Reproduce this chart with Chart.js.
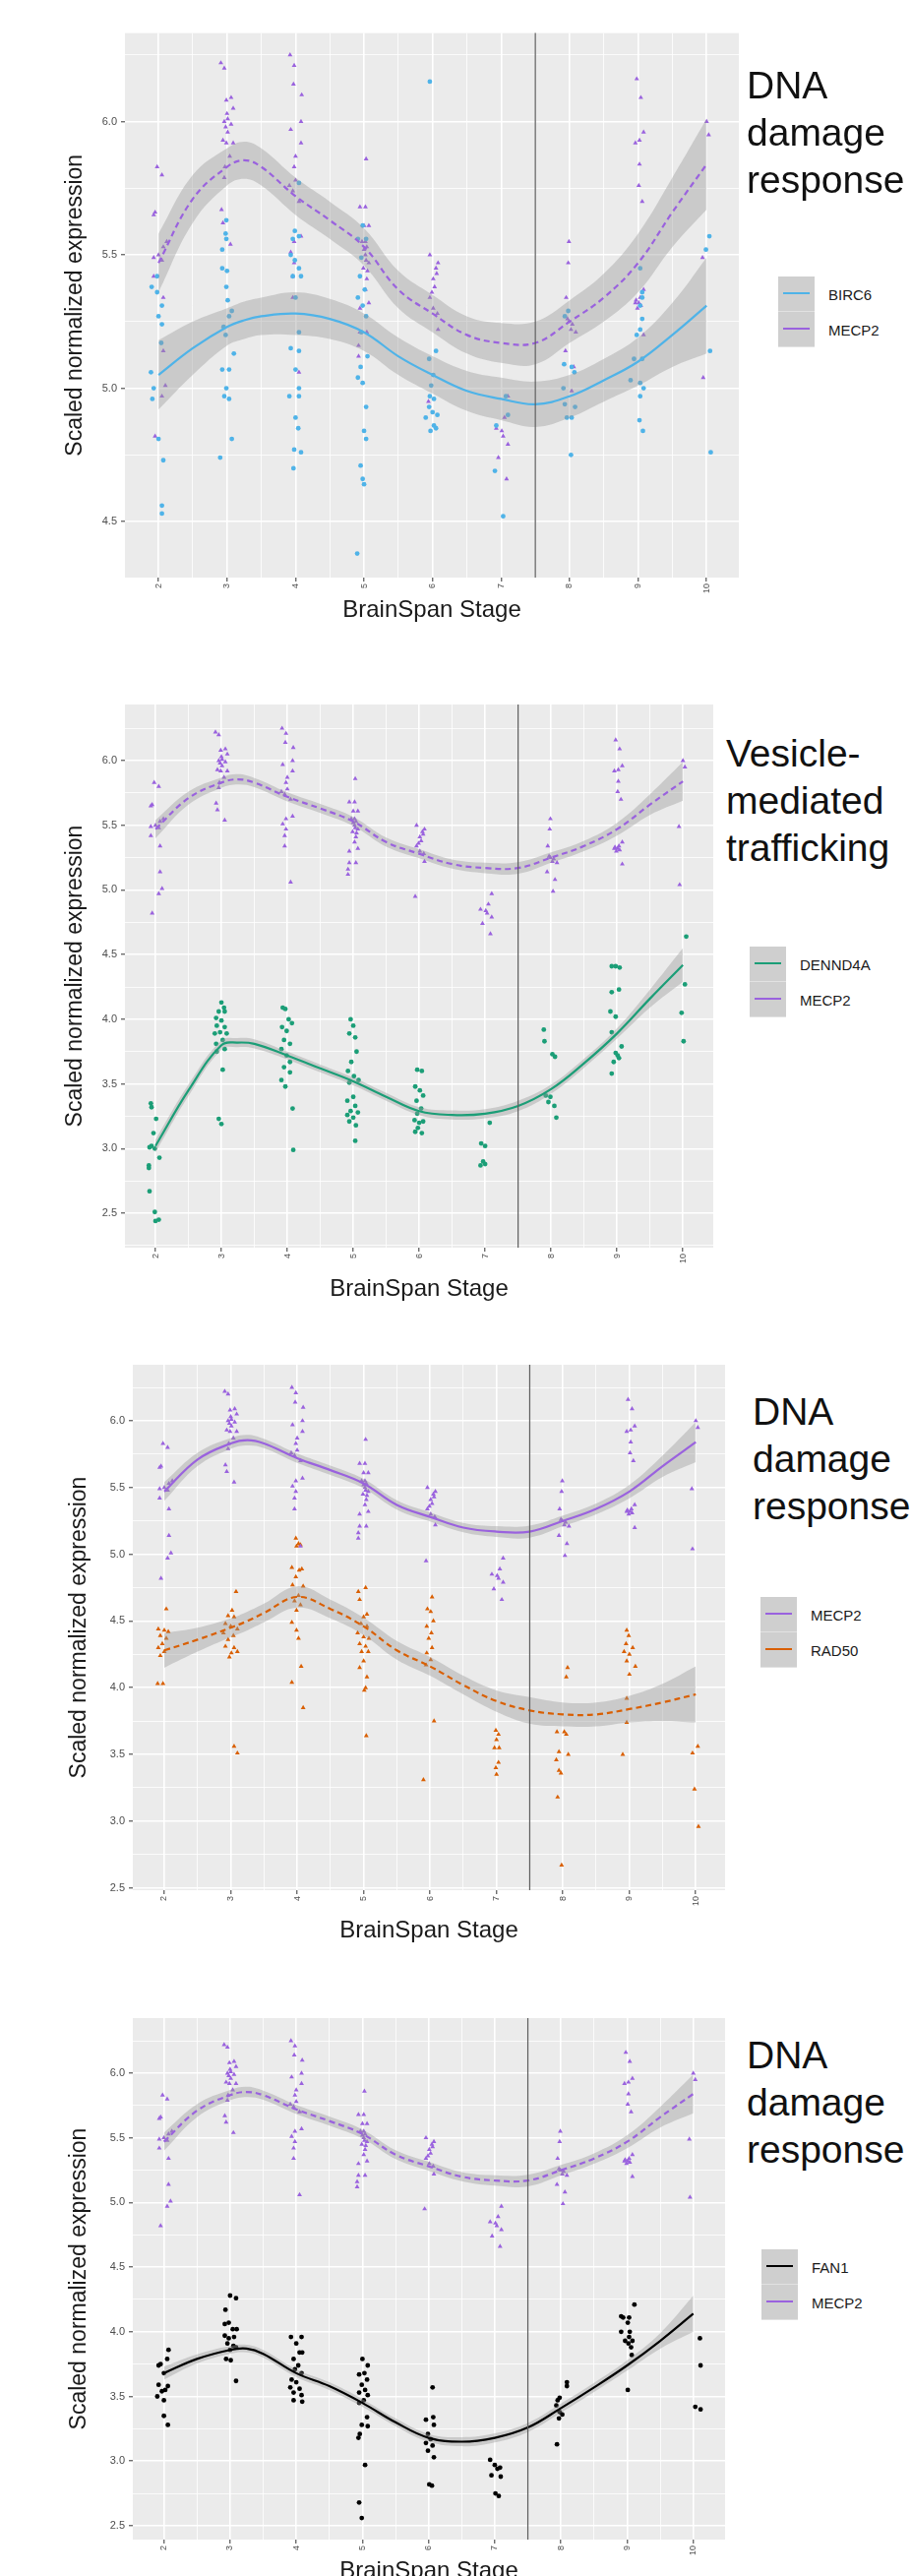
<!DOCTYPE html>
<html>
<head>
<meta charset="utf-8">
<script src="https://cdn.jsdelivr.net/npm/chart.js@4.4.1/dist/chart.umd.min.js"></script>
<style>
html,body{margin:0;padding:0;background:#fff;width:926px;height:2618px;overflow:hidden;position:relative;font-family:"Liberation Sans",Arial,Helvetica,sans-serif;}
.wrap{position:absolute;left:0;}
.title{position:absolute;font-size:39px;line-height:48px;color:#111;white-space:nowrap;}
.legend{position:absolute;}
.row{display:flex;align-items:center;height:36px;}
.key{position:relative;width:37px;height:35px;background:#cfcfcf;border-bottom:1px solid #e2e2e2;}
.key span{position:absolute;left:5px;right:5px;top:16px;height:2px;}
.lab{margin-left:14px;font-size:15px;color:#1a1a1a;}
</style>
</head>
<body>
<script>
// ---------------- data ----------------
const STAGE_TICKS = [2, 3, 4, 5, 6, 7, 8, 9, 10];
const CUTOFF_STAGE = 7.5;
const Y_TICKS_P1 = [4.5, 5.0, 5.5, 6.0];
const Y_TICKS = [2.5, 3.0, 3.5, 4.0, 4.5, 5.0, 5.5, 6.0];

// x positions of fitted-curve samples
const CURVE_X = [2, 2.5, 3, 3.25, 3.5, 4, 4.5, 5, 5.5, 6, 6.5, 7, 7.5, 8, 8.5, 9, 9.5, 10];

const MECP2_FIT = [5.47, 5.71, 5.83, 5.855, 5.83, 5.72, 5.63, 5.53, 5.37, 5.28, 5.20, 5.17, 5.17, 5.25, 5.34, 5.47, 5.66, 5.84];
const MECP2_UPPER_P1 = [5.58, 5.80, 5.90, 5.925, 5.90, 5.79, 5.70, 5.60, 5.44, 5.35, 5.27, 5.245, 5.25, 5.33, 5.43, 5.58, 5.79, 6.01];
const MECP2_LOWER_P1 = [5.36, 5.62, 5.76, 5.785, 5.76, 5.65, 5.56, 5.46, 5.30, 5.21, 5.13, 5.095, 5.09, 5.17, 5.25, 5.36, 5.53, 5.67];
const MECP2_UPPER = [5.54, 5.76, 5.87, 5.895, 5.865, 5.755, 5.665, 5.565, 5.405, 5.315, 5.235, 5.21, 5.215, 5.29, 5.38, 5.52, 5.74, 5.99];
const MECP2_LOWER = [5.40, 5.66, 5.79, 5.815, 5.795, 5.685, 5.595, 5.495, 5.335, 5.245, 5.165, 5.13, 5.125, 5.21, 5.30, 5.42, 5.58, 5.69];

const BIRC6_FIT = [5.05, 5.15, 5.23, 5.255, 5.27, 5.28, 5.26, 5.21, 5.12, 5.05, 4.99, 4.96, 4.94, 4.97, 5.03, 5.10, 5.20, 5.31];
const BIRC6_UPPER = [5.18, 5.25, 5.30, 5.325, 5.34, 5.36, 5.335, 5.28, 5.19, 5.12, 5.065, 5.04, 5.025, 5.05, 5.11, 5.19, 5.32, 5.49];
const BIRC6_LOWER = [4.92, 5.05, 5.16, 5.185, 5.20, 5.20, 5.185, 5.14, 5.05, 4.98, 4.915, 4.88, 4.855, 4.89, 4.95, 5.01, 5.08, 5.13];

const DENND4A_FIT = [3.02, 3.45, 3.80, 3.82, 3.81, 3.72, 3.62, 3.52, 3.40, 3.29, 3.26, 3.27, 3.33, 3.46, 3.66, 3.89, 4.16, 4.42];
const DENND4A_UPPER = [3.07, 3.495, 3.835, 3.855, 3.845, 3.75, 3.65, 3.55, 3.43, 3.32, 3.295, 3.305, 3.37, 3.495, 3.695, 3.93, 4.23, 4.55];
const DENND4A_LOWER = [2.97, 3.405, 3.765, 3.785, 3.775, 3.69, 3.59, 3.49, 3.37, 3.26, 3.225, 3.235, 3.29, 3.425, 3.625, 3.85, 4.09, 4.29];

const RAD50_FIT = [4.28, 4.36, 4.45, 4.50, 4.56, 4.68, 4.59, 4.46, 4.28, 4.16, 4.02, 3.90, 3.83, 3.80, 3.80, 3.84, 3.89, 3.95];
const RAD50_UPPER = [4.41, 4.45, 4.52, 4.57, 4.63, 4.76, 4.66, 4.525, 4.35, 4.23, 4.09, 3.98, 3.93, 3.89, 3.89, 3.94, 4.03, 4.16];
const RAD50_LOWER = [4.15, 4.27, 4.38, 4.43, 4.49, 4.60, 4.52, 4.395, 4.21, 4.09, 3.95, 3.82, 3.73, 3.71, 3.71, 3.74, 3.75, 3.74];

const FAN1_FIT = [3.68, 3.79, 3.86, 3.87, 3.83, 3.68, 3.58, 3.45, 3.30, 3.18, 3.15, 3.18, 3.26, 3.41, 3.57, 3.74, 3.93, 4.14];
const FAN1_UPPER = [3.73, 3.825, 3.89, 3.90, 3.86, 3.71, 3.61, 3.48, 3.33, 3.21, 3.185, 3.215, 3.295, 3.445, 3.605, 3.78, 3.99, 4.28];
const FAN1_LOWER = [3.63, 3.755, 3.83, 3.84, 3.80, 3.65, 3.55, 3.42, 3.27, 3.15, 3.115, 3.145, 3.225, 3.375, 3.535, 3.70, 3.87, 4.00];

// jittered samples [stage, expression]
const MECP2_POINTS = [
 [1.98,5.83],[2.05,5.80],[1.93,5.65],[1.95,5.66],[2.12,5.55],[2.07,5.53],[2.00,5.50],[1.93,5.49],[2.05,5.48],[1.93,5.42],[2.07,5.34],[2.07,5.14],[2.10,5.01],[2.05,4.97],[1.95,4.82],
 [2.91,6.22],[2.96,6.20],[3.06,6.09],[2.99,6.08],[3.09,6.05],[3.01,6.01],[2.96,6.00],[3.06,5.99],[2.94,5.93],[2.99,5.92],[3.09,5.92],[2.97,5.83],[2.96,5.79],[2.92,5.67],[2.94,5.62],[3.05,5.54],[3.01,5.96],[3.04,5.87],[3.00,6.03],[2.98,5.98],
 [3.92,6.25],[3.98,6.21],[3.97,6.14],[4.09,6.10],[4.08,6.00],[3.93,5.97],[4.08,5.92],[4.00,5.87],[3.98,5.83],[3.91,5.76],[3.96,5.74],[4.05,5.70],[4.08,5.57],[3.98,5.55],[3.93,5.51],[3.98,5.47],[3.96,5.42],[3.96,5.34],[4.05,5.06],[4.00,5.78],
 [5.03,5.86],[5.02,5.68],[4.94,5.68],[5.00,5.61],[5.07,5.61],[4.97,5.55],[5.04,5.53],[5.02,5.50],[5.07,5.47],[4.99,5.45],[5.04,5.41],[5.02,5.37],[4.94,5.30],[5.07,5.32],[4.94,5.21],[5.04,5.21],[4.92,5.16],[4.92,5.12],[5.02,5.55],[5.05,5.44],[5.00,5.52],[5.03,5.48],
 [5.96,5.50],[6.08,5.47],[6.06,5.43],[6.01,5.41],[6.03,5.38],[5.96,5.34],[6.01,5.30],[6.08,5.22],[5.94,4.95],[6.05,5.45],[5.99,5.36],[6.07,5.28],
 [7.10,4.97],[7.05,4.89],[6.93,4.85],[7.01,4.84],[7.10,4.79],[6.96,4.74],[7.08,4.66],[7.03,4.82],
 [7.99,5.55],[7.98,5.47],[7.95,5.34],[7.99,5.25],[8.04,5.24],[8.09,5.21],[7.94,5.14],[8.06,5.08],[8.03,4.99],[7.97,5.26],[8.02,5.22],
 [8.98,6.16],[9.04,6.09],[9.08,5.96],[9.02,5.93],[8.96,5.92],[9.02,5.84],[9.01,5.76],[9.06,5.70],[9.08,5.37],[9.03,5.34],[8.96,5.32],[8.99,5.30],[9.08,5.20],[9.01,5.32],[9.04,5.31],[8.97,5.33],
 [10.00,6.00],[10.03,5.95],[9.94,5.49],[9.95,5.04]
];

const BIRC6_POINTS = [
 [1.98,5.42],[1.90,5.38],[1.98,5.36],[2.05,5.31],[2.00,5.27],[2.05,5.24],[2.04,5.17],[1.89,5.06],[1.93,5.00],[1.91,4.96],[2.00,4.81],[2.07,4.73],[2.05,4.56],[2.05,4.53],
 [2.99,5.63],[2.98,5.58],[2.99,5.56],[2.93,5.52],[2.93,5.45],[3.00,5.44],[2.99,5.38],[3.01,5.33],[3.07,5.29],[3.03,5.27],[2.95,5.23],[2.98,5.20],[3.10,5.13],[2.93,5.07],[3.03,5.07],[2.99,5.00],[2.96,4.97],[3.03,4.96],[3.07,4.81],[2.90,4.74],
 [4.05,5.77],[3.99,5.59],[3.96,5.56],[4.05,5.57],[3.93,5.50],[3.99,5.48],[4.05,5.45],[3.96,5.42],[4.08,5.42],[4.00,5.34],[4.05,5.21],[3.93,5.15],[4.05,5.14],[4.00,5.07],[4.05,5.00],[3.91,4.97],[4.05,4.97],[4.00,4.89],[4.04,4.85],[3.98,4.77],[4.08,4.76],[3.97,4.70],
 [4.98,5.61],[4.91,5.56],[5.03,5.56],[4.96,5.49],[4.94,5.42],[5.01,5.37],[4.91,5.34],[4.98,5.31],[5.03,5.27],[4.96,5.21],[5.05,5.12],[4.95,5.08],[4.91,5.04],[4.98,5.02],[5.03,4.93],[5.00,4.84],[5.03,4.81],[4.95,4.71],[4.98,4.66],[5.00,4.64],[4.90,4.38],
 [5.96,6.15],[6.05,5.14],[5.95,5.11],[6.01,5.05],[5.98,5.01],[5.96,4.97],[6.02,4.96],[5.95,4.93],[6.00,4.91],[6.07,4.90],[5.90,4.89],[6.02,4.86],[6.05,4.85],[5.97,4.84],
 [7.10,4.90],[6.93,4.86],[6.91,4.69],[7.03,4.52],[7.07,4.97],
 [7.98,5.29],[7.93,5.27],[8.03,5.08],[7.92,5.09],[8.07,5.06],[7.91,5.00],[7.93,4.94],[8.08,4.93],[7.96,4.89],[8.03,4.89],[8.02,4.75],
 [9.03,5.45],[9.06,5.36],[9.06,5.34],[9.03,5.31],[9.06,5.26],[9.03,5.22],[8.98,5.20],[8.94,5.11],[9.06,5.11],[8.89,5.03],[9.03,5.02],[9.08,5.00],[9.03,4.97],[9.02,4.88],[9.07,4.84],
 [10.04,5.57],[9.99,5.52],[10.05,5.14],[10.06,4.76]
];

const DENND4A_POINTS = [
 [1.93,3.35],[1.94,3.32],[2.01,3.23],[1.97,3.12],[1.94,3.02],[1.99,3.00],[1.91,3.01],[2.06,2.93],[1.90,2.87],[1.90,2.85],[1.91,2.67],[1.99,2.51],[2.00,2.44],[2.05,2.45],
 [3.00,4.13],[3.04,4.09],[2.96,4.06],[3.05,4.06],[2.92,4.01],[3.00,3.99],[2.93,3.95],[3.05,3.94],[2.98,3.90],[2.90,3.89],[3.08,3.89],[3.02,3.84],[2.92,3.81],[3.05,3.77],[2.93,3.75],[3.02,3.61],[2.96,3.23],[3.00,3.19],
 [3.93,4.09],[3.97,4.08],[4.02,4.00],[4.07,3.97],[3.92,3.94],[3.99,3.91],[3.95,3.84],[4.04,3.81],[3.91,3.77],[3.99,3.72],[4.04,3.67],[3.95,3.63],[4.04,3.59],[3.91,3.53],[3.97,3.48],[4.08,3.31],[4.09,2.99],
 [4.96,4.00],[5.00,3.95],[4.94,3.89],[5.03,3.86],[5.05,3.75],[4.97,3.67],[4.92,3.60],[5.01,3.56],[5.08,3.53],[4.94,3.51],[5.00,3.40],[4.91,3.37],[5.03,3.33],[4.96,3.29],[5.07,3.28],[4.91,3.26],[5.00,3.24],[4.94,3.21],[5.04,3.18],[5.03,3.06],
 [5.97,3.61],[6.04,3.60],[5.94,3.48],[6.01,3.45],[6.06,3.41],[5.96,3.37],[6.03,3.31],[5.97,3.27],[5.93,3.22],[6.06,3.21],[5.98,3.16],[5.94,3.13],[6.04,3.12],[6.00,3.20],
 [7.07,3.20],[6.94,3.04],[7.00,3.02],[6.97,2.90],[6.93,2.87],[7.00,2.88],
 [7.89,3.92],[7.90,3.83],[8.02,3.73],[8.06,3.71],[7.92,3.41],[7.99,3.40],[8.05,3.33],[8.08,3.24],[7.96,3.36],
 [8.92,4.41],[8.98,4.41],[9.04,4.40],[8.92,4.21],[9.03,4.23],[8.90,4.06],[8.98,4.02],[8.92,3.90],[9.07,3.79],[8.98,3.74],[9.03,3.70],[8.95,3.67],[8.92,3.58],[9.01,3.72],
 [10.05,4.64],[10.03,4.27],[9.98,4.05],[10.01,3.83]
];

const RAD50_POINTS = [
 [2.03,4.59],[1.91,4.44],[2.00,4.43],[2.06,4.42],[1.94,4.39],[2.03,4.37],[1.97,4.33],[1.91,4.30],[2.00,4.27],[1.94,4.24],[1.90,4.03],[1.98,4.03],
 [3.08,4.72],[3.02,4.58],[2.96,4.54],[3.05,4.53],[2.92,4.48],[3.00,4.46],[3.10,4.44],[2.89,4.41],[3.04,4.39],[2.96,4.36],[2.92,4.31],[3.05,4.30],[3.01,4.26],[3.10,4.27],[2.98,4.23],[3.05,3.56],[3.10,3.51],
 [3.98,5.12],[4.02,5.08],[3.99,5.06],[4.05,5.07],[3.92,4.90],[4.03,4.88],[4.07,4.89],[3.98,4.83],[3.93,4.77],[4.09,4.76],[4.02,4.69],[3.96,4.65],[4.05,4.62],[3.99,4.58],[3.92,4.49],[3.99,4.43],[4.02,4.37],[4.06,4.16],[3.92,4.04],[4.09,3.85],
 [5.03,4.75],[4.92,4.72],[4.94,4.66],[5.05,4.55],[5.00,4.53],[4.96,4.48],[5.05,4.46],[4.91,4.41],[5.00,4.38],[5.08,4.37],[4.94,4.33],[5.03,4.31],[4.97,4.27],[5.07,4.27],[5.00,4.20],[4.94,4.15],[5.05,4.08],[5.03,4.00],[5.01,3.98],[5.04,3.64],
 [6.03,4.68],[5.96,4.59],[6.01,4.57],[6.05,4.50],[5.95,4.46],[6.02,4.41],[5.98,4.37],[6.03,4.30],[5.95,4.26],[6.01,4.21],[5.94,4.17],[6.06,3.75],[5.90,3.31],
 [6.99,3.68],[7.03,3.65],[7.00,3.61],[7.04,3.55],[6.97,3.55],[7.03,3.44],[6.99,3.40],[7.00,3.35],
 [8.07,4.15],[8.05,4.08],[7.91,3.67],[8.02,3.67],[8.05,3.65],[7.94,3.52],[8.08,3.50],[7.90,3.46],[7.94,3.38],[7.97,3.36],[7.92,3.18],[7.98,2.67],
 [8.96,4.43],[8.99,4.39],[8.95,4.33],[9.05,4.30],[8.92,4.27],[9.00,4.25],[8.96,4.20],[9.09,4.16],[9.00,4.10],[8.96,3.92],[8.96,3.74],[8.90,3.50],
 [10.03,3.56],[9.95,3.51],[9.98,3.24],[10.04,2.96]
];

const FAN1_POINTS = [
 [1.95,3.75],[1.92,3.74],[2.07,3.86],[2.05,3.79],[2.00,3.68],[1.92,3.59],[2.06,3.58],[1.97,3.54],[2.02,3.55],[1.90,3.50],[2.00,3.47],[2.00,3.35],[2.06,3.28],
 [3.00,4.28],[3.09,4.26],[2.93,4.17],[2.92,4.06],[2.98,4.07],[3.04,4.02],[3.10,4.02],[2.92,3.97],[2.98,3.95],[3.06,3.96],[2.96,3.91],[3.05,3.89],[3.00,3.86],[3.09,3.88],[2.94,3.79],[3.01,3.78],[3.09,3.62],
 [3.92,3.96],[4.08,3.96],[4.00,3.91],[4.05,3.84],[4.09,3.84],[3.96,3.79],[4.03,3.74],[3.98,3.71],[4.08,3.68],[3.93,3.63],[4.00,3.61],[3.91,3.57],[4.05,3.56],[3.96,3.53],[4.08,3.51],[3.96,3.47],[4.09,3.46],
 [5.00,3.79],[5.08,3.74],[5.03,3.68],[4.95,3.67],[5.07,3.63],[4.99,3.59],[5.04,3.55],[4.95,3.53],[5.08,3.51],[5.02,3.47],[4.95,3.45],[5.07,3.34],[4.99,3.28],[5.08,3.27],[4.96,3.21],[4.94,3.18],[5.04,2.97],[4.95,2.68],[4.99,2.56],
 [6.06,3.57],[5.96,3.32],[6.07,3.34],[6.08,3.28],[5.99,3.21],[6.03,3.17],[5.96,3.14],[6.06,3.12],[5.99,3.08],[6.08,3.03],[6.01,2.82],[6.05,2.81],
 [6.93,3.01],[7.00,2.97],[7.08,2.95],[7.04,2.94],[6.95,2.89],[7.09,2.88],[7.01,2.75],[7.06,2.73],
 [8.09,3.61],[8.09,3.58],[7.98,3.49],[7.95,3.47],[7.93,3.43],[7.98,3.38],[8.02,3.36],[7.97,3.33],[7.94,3.13],
 [9.11,4.21],[8.91,4.12],[8.94,4.11],[9.03,4.11],[9.01,4.07],[8.91,4.00],[9.04,4.00],[9.03,3.96],[8.97,3.93],[9.08,3.93],[9.02,3.91],[9.06,3.88],[9.07,3.82],[9.01,3.55],
 [10.10,3.95],[10.11,3.74],[10.03,3.42],[10.11,3.40]
];

const COLORS = { MECP2: '#9a62de', BIRC6: '#4fb3e8', DENND4A: '#1b9e77', RAD50: '#d95f02', FAN1: '#000000' };

// ---------------- panels ----------------
const panels = [
  { title: ['DNA', 'damage', 'response'], titleX: 759, titleTop: 63,
    legendX: 791, legendTop: 281, legendOrder: ['BIRC6', 'MECP2'],
    top: 0, width: 760, height: 640, padTop: 33.6, padRight: 9, yAxisW: 127, xAxisH: 53, yTitlePad: 63, xTitlePad: 5.6,
    yMin: 4.29, yMax: 6.332, xMin: 1.51, xMax: 10.47, yTicks: Y_TICKS_P1,
    series: [
      { name: 'BIRC6', points: BIRC6_POINTS, fit: BIRC6_FIT, upper: BIRC6_UPPER, lower: BIRC6_LOWER, dashed: false, marker: 'circle' },
      { name: 'MECP2', points: MECP2_POINTS, fit: MECP2_FIT, upper: MECP2_UPPER_P1, lower: MECP2_LOWER_P1, dashed: true, marker: 'triangle' }
    ] },
  { title: ['Vesicle-', 'mediated', 'trafficking'], titleX: 738, titleTop: 742,
    legendX: 762, legendTop: 962, legendOrder: ['DENND4A', 'MECP2'],
    top: 660, width: 735, height: 680, padTop: 56, padRight: 10, yAxisW: 127, xAxisH: 72, yTitlePad: 63, xTitlePad: 15.6,
    yMin: 2.234, yMax: 6.434, xMin: 1.537, xMax: 10.46, yTicks: Y_TICKS,
    series: [
      { name: 'DENND4A', points: DENND4A_POINTS, fit: DENND4A_FIT, upper: DENND4A_UPPER, lower: DENND4A_LOWER, dashed: false, marker: 'circle' },
      { name: 'MECP2', points: MECP2_POINTS, fit: MECP2_FIT, upper: MECP2_UPPER, lower: MECP2_LOWER, dashed: true, marker: 'triangle' }
    ] },
  { title: ['DNA', 'damage', 'response'], titleX: 765, titleTop: 1411,
    legendX: 773, legendTop: 1623, legendOrder: ['MECP2', 'RAD50'],
    top: 1340, width: 745, height: 650, padTop: 47, padRight: 8, yAxisW: 135, xAxisH: 69, yTitlePad: 67, xTitlePad: 13.6,
    yMin: 2.483, yMax: 6.42, xMin: 1.526, xMax: 10.44, yTicks: Y_TICKS,
    series: [
      { name: 'MECP2', points: MECP2_POINTS, fit: MECP2_FIT, upper: MECP2_UPPER, lower: MECP2_LOWER, dashed: false, marker: 'triangle' },
      { name: 'RAD50', points: RAD50_POINTS, fit: RAD50_FIT, upper: RAD50_UPPER, lower: RAD50_LOWER, dashed: true, marker: 'triangle' }
    ] },
  { title: ['DNA', 'damage', 'response'], titleX: 759, titleTop: 2065,
    legendX: 774, legendTop: 2286, legendOrder: ['FAN1', 'MECP2'],
    top: 1990, width: 745, height: 660, padTop: 61, padRight: 8, yAxisW: 135, xAxisH: 69, yTitlePad: 67, xTitlePad: 22.6,
    yMin: 2.393, yMax: 6.426, xMin: 1.53, xMax: 10.48, yTicks: Y_TICKS,
    series: [
      { name: 'FAN1', points: FAN1_POINTS, fit: FAN1_FIT, upper: FAN1_UPPER, lower: FAN1_LOWER, dashed: false, marker: 'circle' },
      { name: 'MECP2', points: MECP2_POINTS, fit: MECP2_FIT, upper: MECP2_UPPER, lower: MECP2_LOWER, dashed: true, marker: 'triangle' }
    ] }
];

// ---------------- drawing ----------------
Chart.defaults.font.family = '"Liberation Sans", Arial, Helvetica, sans-serif';

const panelBg = {
  id: 'panelBg',
  beforeDraw(chart) {
    const { ctx, chartArea: a } = chart;
    ctx.save();
    ctx.fillStyle = '#ebebeb';
    ctx.fillRect(a.left, a.top, a.right - a.left, a.bottom - a.top);
    ctx.restore();
  }
};
const cutoffLine = {
  id: 'cutoffLine',
  afterDatasetsDraw(chart) {
    const { ctx, chartArea: a, scales } = chart;
    const x = scales.x.getPixelForValue(CUTOFF_STAGE);
    ctx.save();
    ctx.strokeStyle = '#5e5e5e';
    ctx.lineWidth = 1.2;
    ctx.beginPath();
    ctx.moveTo(x, a.top);
    ctx.lineTo(x, a.bottom);
    ctx.stroke();
    ctx.restore();
  }
};

const isHalf = v => Math.abs(v * 2 - Math.round(v * 2)) < 1e-9;
const xGrid = [];
STAGE_TICKS.forEach((s, i) => { xGrid.push(s); if (i < STAGE_TICKS.length - 1) xGrid.push((s + STAGE_TICKS[i + 1]) / 2); });

function yGridFor(p) {
  const out = [];
  const t = p.yTicks;
  const step = (t[1] - t[0]) / 2;
  const cand = [t[0] - step];
  t.forEach((v, i) => { cand.push(v); cand.push(i < t.length - 1 ? (v + t[i + 1]) / 2 : v + step); });
  cand.forEach(v => { if (v >= p.yMin && v <= p.yMax) out.push(v); });
  return out;
}

function buildPanel(p) {
  const wrap = document.createElement('div');
  wrap.className = 'wrap';
  wrap.style.top = p.top + 'px';
  wrap.style.width = p.width + 'px';
  wrap.style.height = p.height + 'px';
  const canvas = document.createElement('canvas');
  canvas.width = p.width; canvas.height = p.height;
  canvas.style.width = p.width + 'px'; canvas.style.height = p.height + 'px';
  wrap.appendChild(canvas);
  document.body.appendChild(wrap);

  const datasets = [];
  p.series.forEach(s => {
    datasets.push({
      label: s.name + ' samples', data: s.points.map(([x, y]) => ({ x, y })),
      showLine: false, pointStyle: s.marker, pointRadius: s.marker === 'triangle' ? 2.8 : 2.4,
      pointBackgroundColor: COLORS[s.name], pointBorderWidth: 0, pointBorderColor: COLORS[s.name], order: 3
    });
  });
  p.series.forEach(s => {
    datasets.push({
      label: s.name + ' upper', data: CURVE_X.map((x, i) => ({ x, y: s.upper[i] })),
      borderWidth: 0, borderColor: 'rgba(0,0,0,0)', pointRadius: 0, tension: 0.4, fill: false, order: 2
    });
    datasets.push({
      label: s.name + ' lower', data: CURVE_X.map((x, i) => ({ x, y: s.lower[i] })),
      borderWidth: 0, borderColor: 'rgba(0,0,0,0)', pointRadius: 0, tension: 0.4,
      fill: '-1', backgroundColor: 'rgba(153,153,153,0.4)', order: 2
    });
  });
  p.series.forEach(s => {
    datasets.push({
      label: s.name, data: CURVE_X.map((x, i) => ({ x, y: s.fit[i] })),
      borderColor: COLORS[s.name], borderWidth: 2.2, borderDash: s.dashed ? [6, 4] : [],
      pointRadius: 0, tension: 0.4, fill: false, order: 1
    });
  });

  const yGrid = yGridFor(p);
  new Chart(canvas, {
    type: 'line',
    data: { datasets },
    plugins: [panelBg, cutoffLine],
    options: {
      responsive: false, animation: false, events: [], devicePixelRatio: 1,
      layout: { padding: { top: p.padTop, right: p.padRight, left: 0, bottom: 0 } },
      plugins: { legend: { display: false }, tooltip: { enabled: false } },
      scales: {
        x: {
          type: 'linear', min: p.xMin, max: p.xMax,
          afterBuildTicks: sc => { sc.ticks = xGrid.map(v => ({ value: v })); },
          afterFit: sc => { sc.height = p.xAxisH; },
          ticks: { autoSkip: false, minRotation: 90, maxRotation: 90, padding: 2, color: '#4d4d4d',
                   font: { size: 9 }, callback: v => Number.isInteger(v) ? String(v) : '' },
          grid: { color: '#ffffff',
                  lineWidth: c => (c.tick && Number.isInteger(c.tick.value)) ? 1.6 : 0.8,
                  tickColor: c => (c.tick && Number.isInteger(c.tick.value)) ? '#333333' : 'rgba(0,0,0,0)',
                  tickLength: 4, tickWidth: 1 },
          border: { display: false },
          title: { display: true, text: 'BrainSpan Stage', color: '#1a1a1a', font: { size: 24 },
                   padding: { top: 0, bottom: p.xTitlePad } }
        },
        y: {
          type: 'linear', min: p.yMin, max: p.yMax,
          afterBuildTicks: sc => { sc.ticks = yGrid.map(v => ({ value: v })); },
          afterFit: sc => { sc.width = p.yAxisW; },
          ticks: { padding: 4, color: '#4d4d4d', font: { size: 11 },
                   callback: v => p.yTicks.some(t => Math.abs(t - v) < 1e-9) ? v.toFixed(1) : '' },
          grid: { color: '#ffffff',
                  lineWidth: c => (c.tick && isHalf(c.tick.value)) ? 1.6 : 0.8,
                  tickColor: c => (c.tick && isHalf(c.tick.value)) ? '#333333' : 'rgba(0,0,0,0)',
                  tickLength: 4, tickWidth: 1 },
          border: { display: false },
          title: { display: true, text: 'Scaled normalized expression', color: '#1a1a1a', font: { size: 23 },
                   padding: { top: p.yTitlePad, bottom: 0 } }
        }
      }
    }
  });

  const t = document.createElement('div');
  t.className = 'title';
  t.style.left = p.titleX + 'px';
  t.style.top = p.titleTop + 'px';
  t.innerHTML = p.title.join('<br>');
  document.body.appendChild(t);

  const lg = document.createElement('div');
  lg.className = 'legend';
  lg.style.left = p.legendX + 'px';
  lg.style.top = p.legendTop + 'px';
  p.legendOrder.forEach(name => {
    const row = document.createElement('div'); row.className = 'row';
    const key = document.createElement('div'); key.className = 'key';
    const ln = document.createElement('span'); ln.style.background = COLORS[name];
    key.appendChild(ln);
    const lab = document.createElement('div'); lab.className = 'lab'; lab.textContent = name;
    row.appendChild(key); row.appendChild(lab);
    lg.appendChild(row);
  });
  document.body.appendChild(lg);
}

panels.forEach(buildPanel);
</script>
</body>
</html>
